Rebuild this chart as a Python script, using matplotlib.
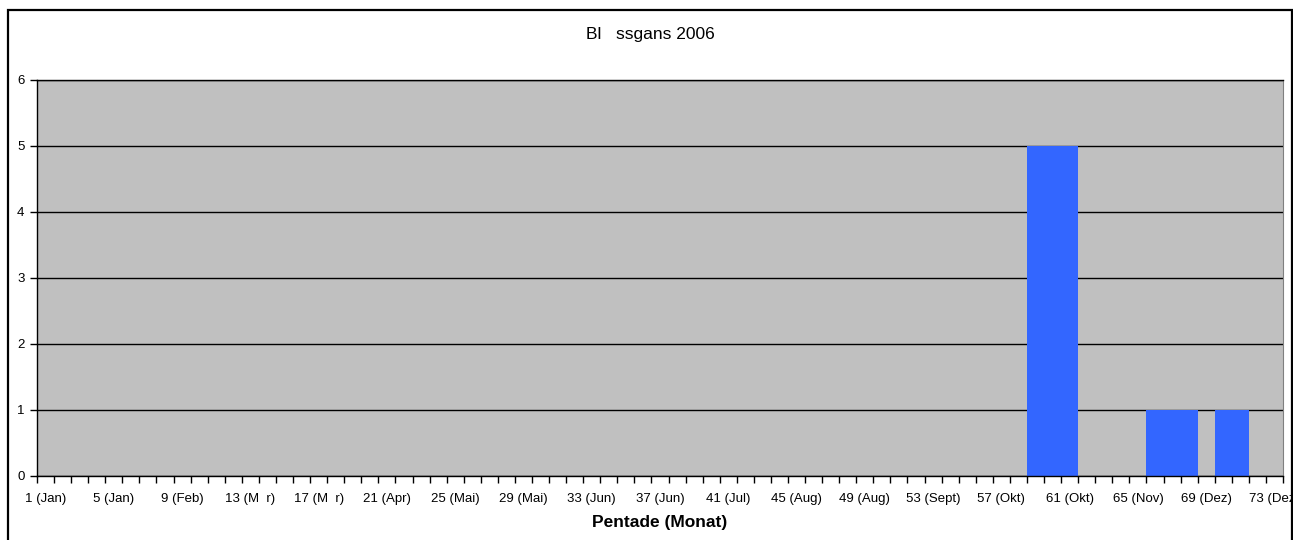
import matplotlib
matplotlib.use("Agg")
from matplotlib import pyplot as plt
from matplotlib.patches import Rectangle

plt.rcParams['font.family'] = ['Liberation Sans', 'DejaVu Sans']

# 73 Pentaden, Zählung pro Pentade
pentades = list(range(1, 74))
counts = [0, 0, 0, 0, 0, 0, 0, 0, 0, 0,
          0, 0, 0, 0, 0, 0, 0, 0, 0, 0,
          0, 0, 0, 0, 0, 0, 0, 0, 0, 0,
          0, 0, 0, 0, 0, 0, 0, 0, 0, 0,
          0, 0, 0, 0, 0, 0, 0, 0, 0, 0,
          0, 0, 0, 0, 0, 0, 0, 0, 5, 5,
          5, 0, 0, 0, 0, 1, 1, 1, 0, 1,
          1, 0, 0]
tick_labels = ["1 (Jan)", "5 (Jan)", "9 (Feb)", "13 (M  r)", "17 (M  r)", "21 (Apr)",
               "25 (Mai)", "29 (Mai)", "33 (Jun)", "37 (Jun)", "41 (Jul)", "45 (Aug)",
               "49 (Aug)", "53 (Sept)", "57 (Okt)", "61 (Okt)", "65 (Nov)", "69 (Dez)",
               "73 (Dez)"]
y_ticks = [0, 1, 2, 3, 4, 5, 6]

W, H = 1303, 540
fig = plt.figure(figsize=(W / 100, H / 100), dpi=100)
ax = fig.add_axes([37 / W, 64 / H, 1246 / W, 396 / H])

x = list(range(len(pentades)))
ax.bar(x, counts, width=1.0, color='#3366FF', edgecolor='none', zorder=2)

ax.set_facecolor('#C0C0C0')
ax.set_xlim(-0.5, len(pentades) - 0.5)
ax.set_ylim(0, 6)
ax.set_yticks(y_ticks)
ax.yaxis.grid(True, color='black', linewidth=1.0)
ax.set_axisbelow(True)

ax.set_xticks(x[::4])
ax.set_xticklabels(tick_labels)
ax.set_xticks([i - 0.5 for i in range(len(pentades) + 1)], minor=True)
ax.tick_params(axis='x', which='major', length=0, pad=12, labelsize=9.5)
ax.tick_params(axis='x', which='minor', length=5, width=1, color='black', direction='out')
ax.tick_params(axis='y', length=5, width=1, pad=4, labelsize=9.5, direction='out')

for side in ['left', 'bottom', 'top']:
    ax.spines[side].set_color('black')
    ax.spines[side].set_linewidth(1.0)
ax.spines['right'].set_color('#808080')

fig.text(650 / W, 1 - 35 / H, "Bl   ssgans 2006", ha='center', va='center', fontsize=12.5)
fig.text(660 / W, 1 - 523 / H, "Pentade (Monat)", ha='center', va='center',
         fontsize=12.5, fontweight='bold')

# Rahmen um das Diagramm
fig.patches.append(Rectangle((8 / W, -0.1), 1284 / W, 1.1 - 10 / H, transform=fig.transFigure,
                             fill=False, edgecolor='black', linewidth=1.6, zorder=5))
fig.patches.append(Rectangle((1293 / W, 0), 10 / W, 1, transform=fig.transFigure,
                             facecolor='white', edgecolor='none', zorder=6))

plt.savefig('out.png', dpi=100)
